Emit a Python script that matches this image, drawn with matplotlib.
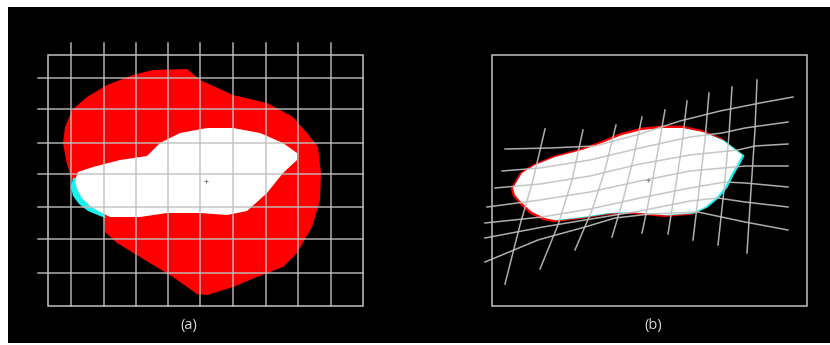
import matplotlib.pyplot as plt
from matplotlib.patches import Polygon, Rectangle
import numpy as np

# ---- panel (a): fixed grid, moving (red) and fixed (white) shapes ----
grid_a_x = [71, 104, 136, 168, 200, 233, 266, 298, 331]
grid_a_y = [78, 109, 143, 174, 207, 239, 273]
box_a = (48, 55, 363, 306)

red_a = [(153, 70), (187, 69), (200, 80), (233, 95), (267, 103), (293, 117),
         (307, 133), (318, 147), (321, 173), (320, 200), (312, 227), (297, 253),
         (283, 267), (257, 277), (233, 287), (207, 295), (197, 294), (173, 277),
         (140, 257), (117, 243), (105, 232), (104, 217), (95, 210), (85, 202),
         (79, 193), (75, 184), (71, 178), (66, 160), (63, 143), (65, 127),
         (72, 110), (87, 97), (107, 85), (133, 75)]

cyan_a = [(73, 178), (71, 187), (73, 196), (79, 204), (88, 211), (100, 216),
          (106, 218), (100, 205), (85, 190), (80, 178)]

white_a = [(78, 172), (93, 167), (120, 160), (147, 156), (160, 143), (180, 133),
           (207, 128), (233, 128), (260, 133), (283, 143), (297, 153), (297, 160),
           (283, 173), (267, 193), (247, 211), (227, 215), (200, 213), (167, 213),
           (140, 217), (110, 217), (100, 212), (90, 206), (82, 198), (77, 189),
           (75, 180)]

# ---- panel (b): deformed grid over the registered shape ----
box_b = (492, 55, 807, 306)

grid_b_h = [
    [(505, 149), (550, 148), (595, 146), (640, 134), (680, 121), (720, 111), (760, 103), (793, 97)],
    [(502, 171), (540, 168), (590, 160), (640, 148), (690, 137), (722, 133), (745, 128), (788, 122)],
    [(495, 188), (540, 184), (590, 176), (640, 164), (690, 155), (738, 150), (755, 146), (788, 144)],
    [(487, 207), (540, 200), (590, 192), (640, 181), (690, 171), (745, 166), (788, 166)],
    [(485, 223), (542, 217), (590, 209), (640, 198), (690, 188), (725, 182), (745, 183), (788, 187)],
    [(485, 238), (543, 227), (585, 220), (640, 211), (690, 201), (718, 198), (745, 202), (788, 207)],
    [(485, 262), (538, 240), (585, 227), (615, 218), (650, 214), (698, 212), (745, 222), (788, 230)],
]

grid_b_v = [
    [(545, 129), (533, 180), (520, 225), (505, 284)],
    [(583, 130), (572, 180), (558, 225), (540, 269)],
    [(616, 125), (605, 170), (592, 210), (575, 250)],
    [(642, 117), (633, 160), (623, 200), (612, 237)],
    [(665, 110), (658, 150), (650, 195), (642, 233)],
    [(687, 101), (682, 145), (675, 190), (668, 234)],
    [(709, 93), (705, 140), (699, 190), (693, 240)],
    [(732, 87), (729, 135), (724, 190), (718, 245)],
    [(757, 80), (755, 130), (751, 190), (747, 253)],
]

white_b = [(513, 188), (522, 173), (535, 165), (555, 157), (582, 150), (602, 143),
           (622, 135), (642, 130), (662, 128), (682, 128), (702, 132), (722, 140),
           (735, 150), (742, 155), (738, 163), (732, 173), (725, 187), (717, 197),
           (705, 207), (692, 213), (665, 215), (632, 212), (608, 213), (582, 217),
           (555, 220), (545, 218), (532, 212), (522, 203), (515, 195)]

centers = [(206, 181), (648, 180)]
labels = ['(a)', '(b)']
label_x = [189, 653]

line_col = '#c0c0c0'

fig = plt.figure(figsize=(8.3, 3.45), dpi=100, facecolor='white')
ax = fig.add_axes([0, 0, 1, 1])
ax.set_xlim(0, 830)
ax.set_ylim(345, 0)
ax.axis('off')

ax.add_patch(Rectangle((8, 7), 822, 336, facecolor='black', edgecolor='none'))

# (a) shapes
ax.add_patch(Polygon(red_a, closed=True, facecolor='#ff0000', edgecolor='none'))
ax.add_patch(Polygon(cyan_a, closed=True, facecolor='#19f0f0', edgecolor='none'))
ax.add_patch(Polygon(white_a, closed=True, facecolor='white', edgecolor='none'))

# (a) regular grid
x0, y0, x1, y1 = box_a
for gx in grid_a_x:
    ax.plot([gx, gx], [43, y1], color=line_col, lw=1.1, alpha=0.9)
for gy in grid_a_y:
    ax.plot([38, x1], [gy, gy], color=line_col, lw=1.1, alpha=0.9)
ax.add_patch(Rectangle((x0, y0), x1 - x0, y1 - y0, facecolor='none',
                       edgecolor=line_col, lw=1.1))

# (b) shape with red/cyan fringes
wb = np.array(white_b, dtype=float)
cx, cy = wb.mean(axis=0)
red_b = wb.copy()
red_b[:, 1] = cy + (red_b[:, 1] - cy) * 1.05
red_b[:, 0] = cx + (red_b[:, 0] - cx) * 1.01 - 1
cyan_b = wb + np.array([2.5, 0.5])
ax.add_patch(Polygon(red_b, closed=True, facecolor='#ff0000', edgecolor='none'))
ax.add_patch(Polygon(cyan_b, closed=True, facecolor='#19f0f0', edgecolor='none'))
ax.add_patch(Polygon(wb, closed=True, facecolor='white', edgecolor='none'))

# (b) deformed grid
for line in grid_b_h + grid_b_v:
    pts = np.array(line)
    ax.plot(pts[:, 0], pts[:, 1], color=line_col, lw=1.1, alpha=0.9)
x0, y0, x1, y1 = box_b
ax.add_patch(Rectangle((x0, y0), x1 - x0, y1 - y0, facecolor='none',
                       edgecolor=line_col, lw=1.1))

# centre marks
for (px, py) in centers:
    ax.plot(px, py, marker='+', ms=2.5, color='#888888', mew=0.8)

for lx, txt in zip(label_x, labels):
    ax.text(lx, 325, txt, color='#d8d8d8', fontsize=10.5, family='Open Sans',
            ha='center', va='center')

fig.savefig('out.png', dpi=100, facecolor='white')
